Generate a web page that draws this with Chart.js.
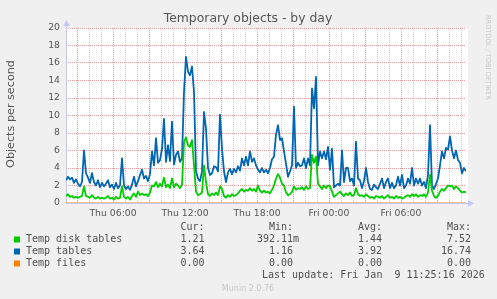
<!DOCTYPE html>
<html><head><meta charset="utf-8">
<script src="https://cdn.jsdelivr.net/npm/chart.js@4/dist/chart.umd.min.js"></script>
<style>html,body{margin:0;padding:0;background:#f0f0f0;}canvas{display:block}</style>
</head><body>
<canvas id="c" width="497" height="299" style="width:497px;height:299px"></canvas>
<script>
// ---- data ----
const chartTitle = 'Temporary objects - by day';
const yAxisTitle = 'Objects per second';
const seriesNames = ['Temp disk tables', 'Temp tables', 'Temp files'];
const seriesColors = ['#00cc00', '#0066b3', '#ff8000'];
const startHour = 2 + 5 / 60;   // Thu 02:05 (hours since Thu 00:00)
const endHour = 35 + 25 / 60;   // Fri 11:25
const stepHours = 10 / 60;      // one sample every 10 minutes
const tempDiskTables = [
 0.8,1.0,0.7,0.8,0.6,0.7,0.6,0.7,0.8,1.9,
 0.8,0.7,0.6,0.9,0.6,0.5,0.7,0.5,0.6,0.5,
 0.6,0.8,0.5,0.6,0.4,0.7,0.5,0.6,1.9,0.7,
 0.5,0.7,0.4,0.8,1.1,0.7,1.3,0.9,1.1,0.9,
 1.0,0.8,1.2,2.0,1.9,2.4,1.8,2.2,1.9,2.9,
 1.8,2.1,1.7,2.8,1.8,2.2,2.0,1.7,2.1,7.0,
 7.5,6.6,6.4,7.2,4.3,1.3,0.9,1.0,1.2,4.3,
 2.4,1.0,0.8,1.1,0.9,1.2,0.9,1.9,1.6,0.8,
 0.6,0.9,0.7,1.0,0.8,0.9,1.1,1.4,1.6,1.3,
 1.5,1.4,1.7,1.4,1.6,1.3,2.0,1.4,1.2,1.4,
 1.2,1.3,1.1,1.5,2.0,2.8,3.3,2.9,2.2,2.0,
 1.2,0.9,1.0,1.3,1.9,1.5,1.7,1.6,1.8,1.5,
 1.9,1.6,1.7,5.5,4.6,5.3,2.2,1.9,1.6,2.0,
 1.7,2.0,1.9,1.3,0.7,0.9,1.1,1.3,1.0,0.8,
 1.1,0.9,1.2,0.8,0.9,1.7,1.0,0.8,0.9,0.7,
 1.0,0.8,0.6,0.7,0.5,0.8,0.7,0.6,0.8,0.5,
 0.7,0.9,0.6,0.7,0.5,0.8,0.6,0.7,0.5,0.6,
 0.8,0.9,0.7,1.0,0.8,1.0,0.7,0.9,0.8,1.0,
 0.7,1.2,3.2,1.4,0.8,0.6,0.8,1.3,1.6,1.4,
 1.7,2.0,1.9,2.0,1.6,1.9,1.7,1.4,1.2,1.3,
 1.21];
const tempTables = [
 2.6,3.0,2.7,2.9,2.3,2.7,2.2,1.9,2.4,6.0,
 3.4,2.9,2.3,3.4,2.4,2.0,2.6,1.8,2.3,1.9,
 2.2,2.6,1.8,2.1,1.6,2.3,1.7,2.0,5.1,2.0,
 1.6,1.9,1.5,2.1,3.0,1.9,2.5,3.2,3.8,2.8,
 3.1,2.5,3.3,5.9,4.3,7.4,4.6,4.9,6.2,9.6,
 4.7,6.6,4.8,9.3,4.4,5.5,5.9,4.7,5.1,12.7,
 16.7,15.0,14.6,15.6,12.7,3.6,2.8,2.5,3.6,10.4,
 8.5,4.0,3.2,3.4,4.2,4.1,3.6,10.1,6.2,3.6,
 2.4,3.5,3.9,3.3,3.9,3.5,4.2,3.7,5.1,4.3,
 5.3,4.3,5.9,4.7,5.1,4.3,3.8,3.5,4.0,3.5,
 3.8,3.4,4.0,5.0,5.3,7.8,8.9,7.2,7.4,5.9,
 4.5,3.0,3.6,4.3,11.0,4.0,4.6,4.2,4.3,5.1,
 4.0,5.1,4.3,13.1,10.8,14.4,4.3,5.9,5.1,5.9,
 5.0,6.4,3.8,6.2,1.8,2.0,2.2,2.0,6.0,2.4,
 4.0,4.0,2.5,2.8,2.0,7.0,2.8,2.6,1.7,2.5,
 4.0,2.4,1.6,1.5,2.1,1.8,1.6,2.2,2.8,1.7,
 2.4,2.8,1.7,2.3,1.7,2.0,3.0,2.0,3.2,1.7,
 2.0,2.8,2.2,4.0,2.0,2.8,2.2,2.8,2.0,2.4,
 1.7,3.2,8.9,2.0,1.6,2.2,2.8,4.3,5.9,5.1,
 6.3,6.1,7.6,6.0,5.1,6.0,4.9,4.6,3.4,4.0,
 3.64];
const tempFilesTimes = [startHour, endHour];
const tempFiles = [0, 0];
const xTickLabels = {6: 'Thu 06:00', 12: 'Thu 12:00', 18: 'Thu 18:00', 24: 'Fri 00:00', 30: 'Fri 06:00'};
const yTickLabels = ['0','2','4','6','8','10','12','14','16','18','20'];
const legendHeaders = ['Cur:', 'Min:', 'Avg:', 'Max:'];
const legendCur = ['1.21', '3.64', '0.00'];
const legendMin = ['392.11m', '1.16', '0.00'];
const legendAvg = ['1.44', '3.92', '0.00'];
const legendMax = ['7.52', '16.74', '0.00'];
const lastUpdate = 'Last update: Fri Jan  9 11:25:16 2026';
const footer = 'Munin 2.0.76';
const sideText = 'RRDTOOL / TOBI OETIKER';

// ---- build ----
const toPts = (vals) => vals.map((v, i) => ({x: startHour + i * stepHours, y: v}));
const hourTicks = [];
for (let h = Math.ceil(startHour); h <= Math.floor(endHour); h++) hourTicks.push(h);

const MAJOR = 'rgba(232,140,140,0.85)';
const MINOR = 'rgba(200,200,200,0.9)';
const AXIS = '#c4c8f2';

const extras = {
  id: 'extras',
  beforeDraw(chart) {
    const {ctx, chartArea: a} = chart;
    ctx.save();
    ctx.fillStyle = '#f0f0f0';
    ctx.fillRect(0, 0, chart.width, chart.height);
    ctx.fillStyle = '#ffffff';
    ctx.fillRect(a.left, a.top, a.right - a.left + 2, a.bottom - a.top);
    ctx.restore();
  },
  beforeDatasetsDraw(chart) {
    const {ctx, chartArea: a} = chart;
    ctx.save();
    ctx.strokeStyle = AXIS; ctx.fillStyle = AXIS; ctx.lineWidth = 1;
    ctx.beginPath(); ctx.moveTo(a.left + 0.5, a.bottom); ctx.lineTo(a.left + 0.5, a.top - 4); ctx.stroke();
    ctx.beginPath(); ctx.moveTo(a.left - 3, a.top - 2); ctx.lineTo(a.left + 4, a.top - 2); ctx.lineTo(a.left + 0.5, a.top - 8); ctx.closePath(); ctx.fill();
    ctx.beginPath(); ctx.moveTo(a.left, a.bottom + 0.5); ctx.lineTo(a.right + 4, a.bottom + 0.5); ctx.stroke();
    ctx.beginPath(); ctx.moveTo(a.right + 2, a.bottom - 3); ctx.lineTo(a.right + 2, a.bottom + 4); ctx.lineTo(a.right + 8, a.bottom + 0.5); ctx.closePath(); ctx.fill();
    ctx.restore();
  },
  afterDraw(chart) {
    const {ctx} = chart;
    ctx.save();
    ctx.textBaseline = 'middle';
    // title
    ctx.fillStyle = '#555';
    ctx.font = '12.4px "DejaVu Sans"';
    ctx.textAlign = 'center';
    ctx.fillText(chartTitle, 248, 19);
    // y title
    ctx.save();
    ctx.translate(11, 114);
    ctx.rotate(-Math.PI / 2);
    ctx.font = '11.2px "DejaVu Sans"';
    ctx.fillText(yAxisTitle, 0, 0);
    ctx.restore();
    // side text
    ctx.save();
    ctx.translate(488, 15);
    ctx.rotate(Math.PI / 2);
    ctx.textAlign = 'left';
    ctx.fillStyle = '#c8c8c8';
    ctx.font = '6.6px "DejaVu Sans"';
    ctx.fillText(sideText, 0, 0);
    ctx.restore();
    // legend
    ctx.font = '10px "DejaVu Sans Mono"';
    ctx.fillStyle = '#505050';
    const colEnds = [210.5, 299, 388, 477];
    ctx.textAlign = 'right';
    legendHeaders.forEach((h, i) => ctx.fillText(h, colEnds[i] - 6, 227.5));
    const rowsY = [239.5, 251.5, 263.5];
    const cols = [legendCur, legendMin, legendAvg, legendMax];
    seriesNames.forEach((name, r) => {
      const y = rowsY[r];
      ctx.fillStyle = seriesColors[r];
      ctx.fillRect(14, y - 3, 6, 6);
      ctx.fillStyle = '#505050';
      ctx.textAlign = 'left';
      ctx.fillText(name, 26, y);
      cols.forEach((col, c) => {
        let s = col[r];
        if (s.endsWith('m')) {
          ctx.textAlign = 'left';
          ctx.fillText('m', colEnds[c] - 6, y);
          s = s.slice(0, -1);
        }
        ctx.textAlign = 'right';
        ctx.fillText(s, colEnds[c] - 6, y);
      });
    });
    ctx.textAlign = 'left';
    ctx.fillText(lastUpdate, 262, 275.5);
    ctx.textAlign = 'center';
    ctx.fillStyle = '#c8c8c8';
    ctx.font = '8px "DejaVu Sans"';
    ctx.fillText(footer, 248, 288.5);
    ctx.restore();
  }
};

new Chart(document.getElementById('c'), {
  type: 'line',
  data: {
    datasets: [
      {label: seriesNames[2], data: tempFilesTimes.map((t, i) => ({x: t, y: tempFiles[i]})), borderColor: seriesColors[2], borderWidth: 1, order: 3},
      {label: seriesNames[1], data: toPts(tempTables), borderColor: seriesColors[1], borderWidth: 1.8, order: 2},
      {label: seriesNames[0], data: toPts(tempDiskTables), borderColor: seriesColors[0], borderWidth: 1.8, order: 1}
    ]
  },
  options: {
    responsive: false, animation: false, devicePixelRatio: 1,
    layout: {padding: {left: 0, right: 31, top: 28, bottom: 0}},
    plugins: {legend: {display: false}, tooltip: {enabled: false}, title: {display: false}},
    elements: {point: {radius: 0}, line: {tension: 0, borderJoinStyle: 'round'}},
    scales: {
      x: {
        type: 'linear', min: startHour, max: endHour,
        afterFit(s) { s.height = 96; },
        afterBuildTicks(s) { s.ticks = hourTicks.map(v => ({value: v})); },
        ticks: {autoSkip: false, maxRotation: 0, minRotation: 0, padding: 5, color: '#555',
          font: {family: 'DejaVu Sans', size: 9.3},
          callback: (v) => xTickLabels[v] || ''},
        grid: {drawTicks: false, lineWidth: 1, color: (c) => (c.tick && c.tick.value % 3 === 0) ? MAJOR : MINOR},
        border: {display: false, dash: [1, 1]}
      },
      y: {
        min: 0, max: 20,
        afterFit(s) { s.width = 66; },
        ticks: {stepSize: 1, padding: 6, color: '#555', font: {family: 'DejaVu Sans', size: 9.3},
          callback: (v) => (v % 2 === 0 ? yTickLabels[v / 2] : '')},
        grid: {drawTicks: false, lineWidth: 1, color: (c) => (c.tick && c.tick.value % 2 === 0) ? MAJOR : MINOR},
        border: {display: false, dash: [1, 1]}
      }
    }
  },
  plugins: [extras]
});
</script>
</body></html>
